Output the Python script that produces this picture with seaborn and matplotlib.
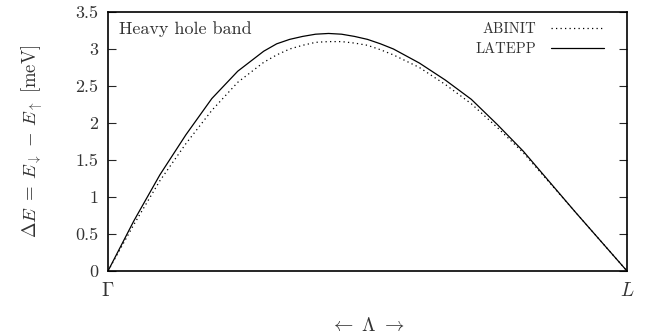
import numpy as np
import pandas as pd
import matplotlib
matplotlib.use("Agg")
import matplotlib.pyplot as plt
import seaborn as sns

# k-path position along Lambda (Gamma = 0, L = 1)
k_path = [0.00, 0.05, 0.10, 0.15, 0.20, 0.25, 0.30, 0.325, 0.35, 0.375, 0.40,
          0.425, 0.45, 0.475, 0.50, 0.525, 0.55, 0.60, 0.65, 0.70, 0.75,
          0.80, 0.85, 0.90, 0.95, 1.00]

# spin splitting dE in meV
abinit = [0.00, 0.63, 1.22, 1.72, 2.17, 2.55, 2.82, 2.92, 3.00, 3.05, 3.09,
          3.10, 3.10, 3.08, 3.05, 2.99, 2.92, 2.75, 2.52, 2.26, 1.94,
          1.60, 1.20, 0.80, 0.40, 0.00]
latepp = [0.00, 0.68, 1.30, 1.84, 2.33, 2.70, 2.97, 3.07, 3.13, 3.17, 3.20,
          3.21, 3.20, 3.17, 3.13, 3.07, 3.00, 2.81, 2.58, 2.32, 1.98,
          1.62, 1.21, 0.80, 0.40, 0.00]

y_ticks = [0, 0.5, 1, 1.5, 2, 2.5, 3, 3.5]
y_tick_labels = ["0", "0.5", "1", "1.5", "2", "2.5", "3", "3.5"]
x_ticks = [0, 1]
x_tick_labels = [r"$\Gamma$", r"$L$"]

df = pd.DataFrame({"k": k_path, "ABINIT": abinit, "LATEPP": latepp})

sns.set_style("ticks")
plt.rcParams["font.family"] = ["cmr10", "DejaVu Serif"]
plt.rcParams["mathtext.fontset"] = "cm"
plt.rcParams["axes.formatter.use_mathtext"] = True

txt = "#333333"
fig = plt.figure(figsize=(6.62, 3.35), dpi=100)
ax = fig.add_axes([108 / 662, 1 - 271 / 335, (627 - 108) / 662, (271 - 12) / 335])

sns.lineplot(data=df, x="k", y="ABINIT", ax=ax, color="black", lw=0.9,
             linestyle=(0, (1, 2.6)), label="ABINIT")
sns.lineplot(data=df, x="k", y="LATEPP", ax=ax, color="black", lw=0.9,
             label="LATEPP")

ax.set_xlim(0, 1)
ax.set_ylim(0, 3.5)
ax.set_yticks(y_ticks)
ax.set_yticklabels(y_tick_labels)
ax.set_xticks(x_ticks)
ax.set_xticklabels(x_tick_labels)
ax.tick_params(axis="y", direction="in", length=6, width=0.8, right=True,
               labelsize=13, labelcolor=txt, pad=7)
ax.tick_params(axis="x", length=0, labelsize=14, labelcolor=txt, pad=8)

for s in ax.spines.values():
    s.set_linewidth(1.2)
    s.set_color("black")

ax.set_xlabel(r"$\leftarrow\ \Lambda\ \rightarrow$", fontsize=14, color=txt,
              labelpad=12)
ax.set_ylabel(r"$\Delta E\;=\;E_{\downarrow}\,-\,E_{\uparrow}$ [meV]",
              fontsize=13.5, color=txt, labelpad=22)

ax.text(0.022, 0.965, "Heavy hole band", transform=ax.transAxes, ha="left",
        va="top", fontsize=13, color=txt)

leg = ax.legend(loc="upper right", frameon=False, markerfirst=False,
                fontsize=10.5, handlelength=3.6, handletextpad=1.0,
                borderaxespad=0.3, labelspacing=0.45,
                bbox_to_anchor=(0.975, 1.0))
for t in leg.get_texts():
    t.set_color(txt)

fig.savefig("out.png", dpi=100)
plt.close(fig)
